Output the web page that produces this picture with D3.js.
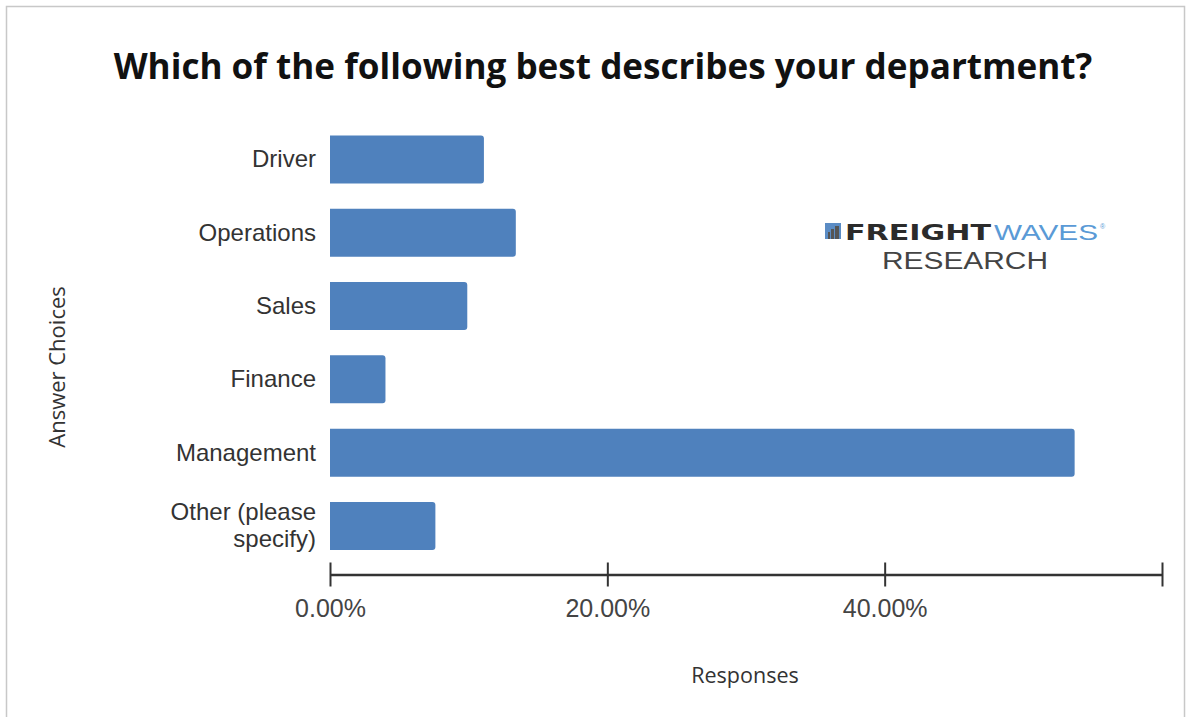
<!DOCTYPE html>
<html>
<head>
<meta charset="utf-8">
<script src="https://cdn.jsdelivr.net/npm/d3@7/dist/d3.min.js"></script>
<style>
  html, body { margin: 0; padding: 0; background: #fff; }
  svg { display: block; }
</style>
</head>
<body>
<svg id="chart" width="1190" height="717"></svg>
<script>
// Survey answers and share of responses (percent)
const categories = ["Driver", "Operations", "Sales", "Finance", "Management", "Other (please specify)"];
const categoryLines = [["Driver"], ["Operations"], ["Sales"], ["Finance"], ["Management"], ["Other (please", "specify)"]];
const responses = [11.1, 13.4, 9.9, 4.0, 53.7, 7.6];
const tickValues = [0, 20, 40, 60];
const tickLabels = ["0.00%", "20.00%", "40.00%", ""];

const titleText = "Which of the following best describes your department?";

const svg = d3.select("#chart");

// frame
svg.append("rect")
  .attr("x", 6.5).attr("y", 6.5)
  .attr("width", 1178).attr("height", 720)
  .attr("fill", "#fff")
  .attr("stroke", "#c8c8c8").attr("stroke-width", 1.5);

const x = d3.scaleLinear().domain([0, 60]).range([330, 1162]);
const y = d3.scaleBand().domain(categories).range([122.8, 562.6]).paddingInner(0.345).paddingOuter(0.1725);

// title, sized to span its line
const title = svg.append("text")
  .attr("x", 603).attr("y", 79)
  .attr("text-anchor", "middle")
  .attr("font-family", "'Open Sans', 'Noto Sans', sans-serif")
  .attr("font-weight", 700)
  .attr("font-size", 34)
  .attr("fill", "#111")
  .text(titleText);
{
  const w = title.node().getComputedTextLength();
  title.attr("font-size", 34 * 979 / w);
}

// bars: square on the baseline, lightly rounded at the tip
const r = 3;
svg.append("g").selectAll("path")
  .data(categories)
  .join("path")
  .attr("fill", "#4f81bd")
  .attr("d", (d, i) => {
    const x0 = x(0), x1 = x(responses[i]);
    const y0 = y(d), h = y.bandwidth();
    return `M${x0},${y0}H${x1 - r}Q${x1},${y0} ${x1},${y0 + r}V${y0 + h - r}Q${x1},${y0 + h} ${x1 - r},${y0 + h}H${x0}Z`;
  });

// category labels
const labels = svg.append("g")
  .attr("font-family", "'Liberation Sans', Arial, sans-serif")
  .attr("font-size", 24)
  .attr("fill", "#333")
  .attr("text-anchor", "end");
categories.forEach((c, i) => {
  const lines = categoryLines[i];
  const cy = y(c) + y.bandwidth() / 2;
  const lh = 27;
  lines.forEach((ln, j) => {
    labels.append("text")
      .attr("x", 316)
      .attr("y", cy + (j - (lines.length - 1) / 2) * lh + 8)
      .text(ln);
  });
});

// x axis
const axis = d3.axisBottom(x)
  .tickValues(tickValues)
  .tickSize(0)
  .tickFormat((d, i) => tickLabels[i]);
const gx = svg.append("g")
  .attr("transform", "translate(0,574.5)")
  .call(axis);
gx.select(".domain").attr("stroke", "#333").attr("stroke-width", 2.5);
gx.selectAll(".tick line").remove();
gx.selectAll(".tick").append("line")
  .attr("y1", -12).attr("y2", 12)
  .attr("stroke", "#333").attr("stroke-width", 2);
gx.selectAll(".tick text")
  .attr("y", 25)
  .attr("dy", "0.71em")
  .attr("font-family", "'Liberation Sans', Arial, sans-serif")
  .attr("font-size", 25)
  .attr("fill", "#444");

// axis titles
svg.append("text")
  .attr("x", 745).attr("y", 683)
  .attr("text-anchor", "middle")
  .attr("font-family", "'Open Sans', 'Noto Sans', sans-serif")
  .attr("font-size", 21.5)
  .attr("fill", "#333")
  .text("Responses");

svg.append("text")
  .attr("transform", "translate(65,367) rotate(-90)")
  .attr("text-anchor", "middle")
  .attr("font-family", "'Open Sans', 'Noto Sans', sans-serif")
  .attr("font-size", 22)
  .attr("fill", "#333")
  .text("Answer Choices");

// brand mark
const logo = svg.append("g");
logo.append("rect").attr("x", 825).attr("y", 223).attr("width", 16).attr("height", 16).attr("fill", "#5b8cc4");
[[828, 232, 2, 7], [831, 229, 3, 10], [835, 226, 4, 13]].forEach(([a, b, w, h]) =>
  logo.append("rect").attr("x", a).attr("y", b).attr("width", w).attr("height", h).attr("fill", "#555"));
const brand = logo.append("text")
  .attr("x", 845).attr("y", 240)
  .attr("font-family", "'DejaVu Sans', sans-serif")
  .attr("font-size", 22);
brand.append("tspan").attr("font-weight", 900).attr("fill", "#2b2b2b").attr("textLength", 146).attr("lengthAdjust", "spacingAndGlyphs").text("FREIGHT");
brand.append("tspan").attr("dx", 3).attr("font-weight", 300).attr("fill", "#5a9ad6").attr("font-family", "'Liberation Sans', Arial, sans-serif").attr("textLength", 104).attr("lengthAdjust", "spacingAndGlyphs").text("WAVES");
logo.append("text")
  .attr("x", 1100).attr("y", 229)
  .attr("font-family", "'Liberation Sans', Arial, sans-serif")
  .attr("font-size", 7).attr("fill", "#5a9ad6").text("®");
logo.append("text")
  .attr("x", 882).attr("y", 269)
  .attr("font-family", "'Liberation Sans', Arial, sans-serif")
  .attr("font-size", 23)
  .attr("fill", "#444")
  .attr("textLength", 166).attr("lengthAdjust", "spacingAndGlyphs")
  .text("RESEARCH");
</script>
</body>
</html>
